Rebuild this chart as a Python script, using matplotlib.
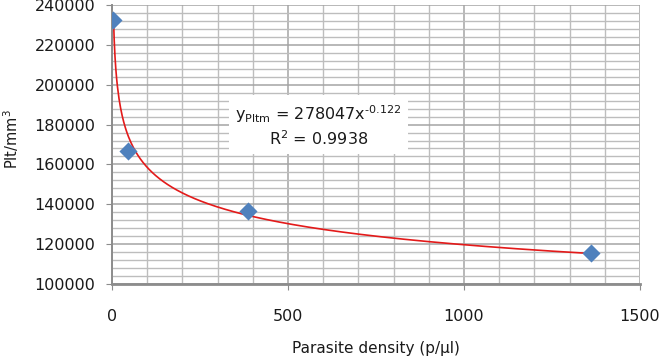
import numpy as np
import matplotlib
matplotlib.use("Agg")
import matplotlib.pyplot as plt
from matplotlib.ticker import MultipleLocator

plt.rcParams['font.family'] = ['DejaVu Sans']

# Data
parasite_density = [4, 46, 385, 1362]
platelets = [232700, 166900, 136600, 115400]

# Power trend line shown on the chart
coef_a = 278047
coef_b = -0.122
r_squared = 0.9938

x_ticks = [0, 500, 1000, 1500]
y_ticks = list(range(100000, 240001, 20000))

fig = plt.figure(figsize=(6.62, 3.6), dpi=100)
ax = fig.add_axes([112/662, 1 - 284/360, (640-112)/662, (284-5)/360])

ax.set_xlim(0, 1500)
ax.set_ylim(100000, 240000)
ax.set_xticks(x_ticks)
ax.set_yticks(y_ticks)
ax.xaxis.set_minor_locator(MultipleLocator(100))
ax.yaxis.set_minor_locator(MultipleLocator(4000))
ax.grid(which='major', color='#a4a4a4', linewidth=1.1)
ax.grid(which='minor', color='#bdbdbd', linewidth=1.0)
ax.set_axisbelow(True)

for s in ['top', 'right']:
    ax.spines[s].set_visible(False)
ax.spines['left'].set_color('#8c8c8c')
ax.spines['bottom'].set_color('#8c8c8c')
ax.spines['bottom'].set_linewidth(2.0)
ax.spines['left'].set_linewidth(1.4)

ax.tick_params(which='major', direction='out', length=4, color='#8c8c8c',
               labelsize=11.5, labelcolor='#1a1a1a')
ax.tick_params(axis='x', which='major', pad=14)
ax.tick_params(axis='y', which='major', pad=8)
ax.tick_params(which='minor', length=0)

xs = np.linspace(min(parasite_density), max(parasite_density), 600)
ax.plot(xs, coef_a * xs ** coef_b, color='#e31a1a', linewidth=1.2, zorder=3)

ax.scatter(parasite_density, platelets, marker='D', s=85, color='#4f81bd',
           zorder=4, linewidths=0)

eq_text = ("y$_{\\mathregular{Pltm}}$ = %dx$^{\\mathregular{\u2010%.3f}}$\nR$^{\\mathregular{2}}$ = %.4f"
           % (coef_a, -coef_b, r_squared))
ax.text(586, 179500, eq_text,
        ha='center', va='center', fontsize=11.5, color='#1a1a1a',
        linespacing=1.25,
        bbox=dict(boxstyle='square,pad=0.4', facecolor='white', edgecolor='none'),
        zorder=5)

ax.set_xlabel("Parasite density (p/µl)", fontsize=11, color='#1a1a1a', labelpad=12)
ax.set_ylabel("Plt/mm$^{\\mathregular{3}}$", fontsize=10.5, color='#1a1a1a')
ax.yaxis.set_label_coords(-(112 - 21) / 528, 0.52)

fig.savefig("out.png", dpi=100)
